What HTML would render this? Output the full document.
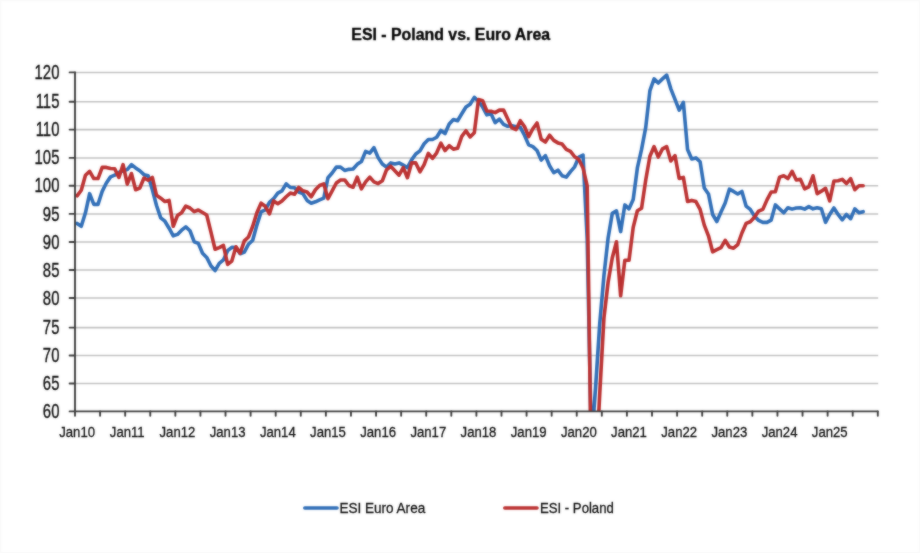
<!DOCTYPE html>
<html lang="en"><head><meta charset="utf-8"><title>ESI - Poland vs. Euro Area</title>
<style>html,body{margin:0;padding:0;background:#fff}body{width:920px;height:553px;overflow:hidden}svg{display:block}text{font-family:"Liberation Sans",Arial,sans-serif}</style>
</head><body>
<svg width="920" height="553" viewBox="0 0 920 553">
<defs><filter id="soft" color-interpolation-filters="sRGB" filterUnits="userSpaceOnUse" x="-10" y="-10" width="940" height="573"><feGaussianBlur in="SourceGraphic" stdDeviation="0.85" result="b"/><feComposite in="SourceGraphic" in2="b" operator="arithmetic" k1="0" k2="0.5" k3="0.5" k4="0"/></filter><clipPath id="plot"><rect x="75.0" y="69.4" width="804.8" height="342.0"/></clipPath></defs>
<g filter="url(#soft)">
<rect x="-10" y="-10" width="940" height="573" fill="#ffffff"/>
<rect x="0.5" y="0.5" width="919" height="552" fill="none" stroke="#f8f8f8" stroke-width="1.5"/>
<g stroke="#c1c1c1" stroke-width="1.55" fill="none">
<line x1="75.0" y1="72.40" x2="878.2" y2="72.40"/>
<line x1="75.0" y1="101.80" x2="878.2" y2="101.80"/>
<line x1="75.0" y1="129.60" x2="878.2" y2="129.60"/>
<line x1="75.0" y1="157.90" x2="878.2" y2="157.90"/>
<line x1="75.0" y1="185.80" x2="878.2" y2="185.80"/>
<line x1="75.0" y1="213.90" x2="878.2" y2="213.90"/>
<line x1="75.0" y1="242.00" x2="878.2" y2="242.00"/>
<line x1="75.0" y1="270.00" x2="878.2" y2="270.00"/>
<line x1="75.0" y1="298.00" x2="878.2" y2="298.00"/>
<line x1="75.0" y1="327.60" x2="878.2" y2="327.60"/>
<line x1="75.0" y1="355.50" x2="878.2" y2="355.50"/>
<line x1="75.0" y1="383.50" x2="878.2" y2="383.50"/>
</g>
<g clip-path="url(#plot)" fill="none" stroke-width="3.6" stroke-linejoin="round" stroke-linecap="round">
<polyline stroke="#306eb7" points="77.09,223.45 81.27,226.26 85.45,212.78 89.63,193.67 93.82,204.35 98.00,204.35 102.18,191.42 106.36,183.01 110.54,176.87 114.72,175.20 118.90,172.41 123.08,170.73 127.27,169.62 131.45,164.60 135.63,167.94 139.81,170.73 143.99,174.64 148.17,175.76 152.35,189.73 156.53,205.47 160.72,217.83 164.90,221.21 169.08,228.23 173.26,235.82 177.44,234.41 181.62,230.20 185.80,226.83 189.98,230.76 194.17,241.72 198.35,243.40 202.53,253.20 206.71,257.40 210.89,265.80 215.07,270.56 219.25,263.28 223.43,259.92 227.62,250.68 231.80,247.32 235.98,247.60 240.16,253.76 244.34,252.08 248.52,244.24 252.70,240.31 256.88,225.14 261.07,211.93 265.25,209.97 269.43,202.38 273.61,198.73 277.79,193.11 281.97,190.86 286.15,183.85 290.33,187.49 294.52,187.77 298.70,191.98 302.88,193.67 307.06,200.41 311.24,203.22 315.42,201.82 319.60,199.85 323.78,198.16 327.97,177.71 332.15,172.97 336.33,167.11 340.51,167.11 344.69,170.46 348.87,169.34 353.05,169.06 357.23,164.32 361.42,161.53 365.60,151.39 369.78,153.09 373.96,147.71 378.14,157.62 382.32,164.04 386.50,167.11 390.68,162.92 394.87,164.04 399.05,162.92 403.23,165.15 407.41,167.67 411.59,159.85 415.77,153.94 419.95,150.82 424.13,143.75 428.32,139.50 432.50,139.50 436.68,137.24 440.86,130.45 445.04,133.56 449.22,124.04 453.40,119.59 457.58,120.70 461.77,113.75 465.95,107.08 470.13,104.30 474.31,97.39 478.49,101.21 482.67,107.08 486.85,114.87 491.03,113.75 495.22,122.65 499.40,119.04 503.58,124.32 507.76,126.26 511.94,125.71 516.12,126.82 520.30,127.38 524.48,135.26 528.67,144.88 532.85,146.58 537.03,150.54 541.21,160.13 545.39,155.64 549.57,165.71 553.75,172.69 557.93,170.18 562.12,175.76 566.30,177.15 570.48,171.57 574.66,166.83 578.84,157.05 583.02,155.07 587.20,239.19 591.38,445.00 595.57,387.41 599.75,323.46 603.93,275.60 608.11,238.07 612.29,213.34 616.47,210.81 620.65,231.60 624.83,204.91 629.02,208.84 633.20,199.57 637.38,167.94 641.56,149.41 645.74,127.38 649.92,90.63 654.10,78.87 658.28,82.98 662.47,78.87 666.65,75.05 670.83,88.86 675.01,99.45 679.19,110.14 683.37,102.36 687.55,149.41 691.73,159.02 695.92,157.90 700.10,161.81 704.28,188.05 708.46,193.95 712.64,214.46 716.82,221.49 721.00,211.93 725.18,202.94 729.37,189.17 733.55,191.42 737.73,193.95 741.91,191.42 746.09,206.03 750.27,209.40 754.45,216.15 758.63,220.36 762.82,222.33 767.00,222.33 771.18,220.08 775.36,204.91 779.54,208.84 783.72,212.78 787.90,207.72 792.08,209.12 796.27,208.00 800.45,207.72 804.63,209.12 808.81,206.59 812.99,208.84 817.17,207.72 821.35,208.84 825.53,222.33 829.72,214.46 833.90,208.00 838.08,214.46 842.26,219.80 846.44,214.46 850.62,218.68 854.80,208.84 858.98,212.78 863.17,211.65"/>
<polyline stroke="#bb3131" points="77.09,195.92 81.27,190.30 85.45,175.20 89.63,171.29 93.82,178.55 98.00,178.55 102.18,167.39 106.36,167.39 110.54,168.50 114.72,168.78 118.90,177.43 123.08,164.60 127.27,184.13 131.45,173.52 135.63,189.73 139.81,188.05 143.99,177.99 148.17,180.22 152.35,177.43 156.53,195.35 160.72,198.16 164.90,201.54 169.08,200.41 173.26,226.26 177.44,215.59 181.62,212.78 185.80,206.03 189.98,208.00 194.17,211.65 198.35,209.97 202.53,212.50 206.71,215.02 210.89,231.88 215.07,249.28 219.25,247.60 223.43,245.36 227.62,264.40 231.80,261.04 235.98,246.76 240.16,253.20 244.34,240.88 248.52,236.94 252.70,226.26 256.88,212.78 261.07,203.22 265.25,206.31 269.43,213.90 273.61,200.97 277.79,203.78 281.97,200.97 286.15,196.76 290.33,193.11 294.52,194.23 298.70,187.49 302.88,190.86 307.06,191.98 311.24,196.76 315.42,189.73 319.60,185.52 323.78,183.85 327.97,198.73 332.15,190.86 336.33,183.01 340.51,179.94 344.69,179.94 348.87,185.52 353.05,187.21 357.23,177.15 361.42,188.89 365.60,181.89 369.78,177.15 373.96,181.89 378.14,183.57 382.32,180.78 386.50,169.90 390.68,166.27 394.87,170.73 399.05,175.20 403.23,167.67 407.41,177.71 411.59,162.92 415.77,162.92 419.95,171.85 424.13,164.60 428.32,153.37 432.50,158.46 436.68,152.81 440.86,143.18 445.04,150.54 449.22,145.73 453.40,149.13 457.58,148.28 461.77,136.39 465.95,130.73 470.13,136.96 474.31,132.71 478.49,99.45 482.67,100.62 486.85,110.97 491.03,111.25 495.22,112.64 499.40,110.14 503.58,110.14 507.76,119.04 511.94,127.93 516.12,129.60 520.30,120.70 524.48,126.54 528.67,136.68 532.85,128.77 537.03,122.93 541.21,139.22 545.39,142.05 549.57,135.26 553.75,140.35 557.93,142.90 562.12,144.03 566.30,149.41 570.48,151.39 574.66,156.77 578.84,159.57 583.02,167.94 587.20,185.80 591.38,480.28 595.57,476.36 599.75,393.54 603.93,318.13 608.11,282.32 612.29,257.68 616.47,241.72 620.65,295.76 624.83,260.20 629.02,260.20 633.20,227.39 637.38,210.81 641.56,208.28 645.74,179.94 649.92,156.20 654.10,146.58 658.28,157.05 662.47,148.84 666.65,146.58 670.83,160.97 675.01,155.64 679.19,178.55 683.37,177.43 687.55,201.54 691.73,200.41 695.92,201.54 700.10,209.40 704.28,225.14 708.46,235.82 712.64,251.80 716.82,249.56 721.00,247.60 725.18,240.31 729.37,247.04 733.55,248.16 737.73,244.52 741.91,233.01 746.09,223.45 750.27,221.77 754.45,217.27 758.63,211.09 762.82,209.40 767.00,199.85 771.18,191.98 775.36,191.70 779.54,177.15 783.72,175.76 787.90,178.55 792.08,171.29 796.27,179.94 800.45,179.38 804.63,188.89 808.81,186.92 812.99,175.76 817.17,193.67 821.35,191.14 825.53,188.33 829.72,200.97 833.90,181.06 838.08,180.78 842.26,179.38 846.44,183.57 850.62,178.55 854.80,189.73 858.98,185.80 863.17,185.80"/>
</g>
<g stroke="#3c3c3c" stroke-width="1.9" fill="none" stroke-linecap="round">
<line x1="75.0" y1="72.4" x2="75.0" y2="411.4"/>
<line x1="69.6" y1="411.4" x2="877.8" y2="411.4"/>
<line x1="69.6" y1="72.40" x2="75.0" y2="72.40"/>
<line x1="69.6" y1="101.80" x2="75.0" y2="101.80"/>
<line x1="69.6" y1="129.60" x2="75.0" y2="129.60"/>
<line x1="69.6" y1="157.90" x2="75.0" y2="157.90"/>
<line x1="69.6" y1="185.80" x2="75.0" y2="185.80"/>
<line x1="69.6" y1="213.90" x2="75.0" y2="213.90"/>
<line x1="69.6" y1="242.00" x2="75.0" y2="242.00"/>
<line x1="69.6" y1="270.00" x2="75.0" y2="270.00"/>
<line x1="69.6" y1="298.00" x2="75.0" y2="298.00"/>
<line x1="69.6" y1="327.60" x2="75.0" y2="327.60"/>
<line x1="69.6" y1="355.50" x2="75.0" y2="355.50"/>
<line x1="69.6" y1="383.50" x2="75.0" y2="383.50"/>
<line x1="75.00" y1="411.4" x2="75.00" y2="415.8"/>
<line x1="100.09" y1="411.4" x2="100.09" y2="415.8"/>
<line x1="125.17" y1="411.4" x2="125.17" y2="415.8"/>
<line x1="150.26" y1="411.4" x2="150.26" y2="415.8"/>
<line x1="175.35" y1="411.4" x2="175.35" y2="415.8"/>
<line x1="200.44" y1="411.4" x2="200.44" y2="415.8"/>
<line x1="225.52" y1="411.4" x2="225.52" y2="415.8"/>
<line x1="250.61" y1="411.4" x2="250.61" y2="415.8"/>
<line x1="275.70" y1="411.4" x2="275.70" y2="415.8"/>
<line x1="300.79" y1="411.4" x2="300.79" y2="415.8"/>
<line x1="325.88" y1="411.4" x2="325.88" y2="415.8"/>
<line x1="350.96" y1="411.4" x2="350.96" y2="415.8"/>
<line x1="376.05" y1="411.4" x2="376.05" y2="415.8"/>
<line x1="401.14" y1="411.4" x2="401.14" y2="415.8"/>
<line x1="426.22" y1="411.4" x2="426.22" y2="415.8"/>
<line x1="451.31" y1="411.4" x2="451.31" y2="415.8"/>
<line x1="476.40" y1="411.4" x2="476.40" y2="415.8"/>
<line x1="501.49" y1="411.4" x2="501.49" y2="415.8"/>
<line x1="526.58" y1="411.4" x2="526.58" y2="415.8"/>
<line x1="551.66" y1="411.4" x2="551.66" y2="415.8"/>
<line x1="576.75" y1="411.4" x2="576.75" y2="415.8"/>
<line x1="601.84" y1="411.4" x2="601.84" y2="415.8"/>
<line x1="626.92" y1="411.4" x2="626.92" y2="415.8"/>
<line x1="652.01" y1="411.4" x2="652.01" y2="415.8"/>
<line x1="677.10" y1="411.4" x2="677.10" y2="415.8"/>
<line x1="702.19" y1="411.4" x2="702.19" y2="415.8"/>
<line x1="727.27" y1="411.4" x2="727.27" y2="415.8"/>
<line x1="752.36" y1="411.4" x2="752.36" y2="415.8"/>
<line x1="777.45" y1="411.4" x2="777.45" y2="415.8"/>
<line x1="802.54" y1="411.4" x2="802.54" y2="415.8"/>
<line x1="827.62" y1="411.4" x2="827.62" y2="415.8"/>
<line x1="852.71" y1="411.4" x2="852.71" y2="415.8"/>
<line x1="877.80" y1="411.4" x2="877.80" y2="415.8"/>
</g>
<g fill="#0c0c0c" stroke="#0c0c0c" stroke-width="0.35" font-size="19.3" text-anchor="end">
<text transform="translate(59.4 79.25) scale(0.770 1)">120</text>
<text transform="translate(59.4 107.52) scale(0.770 1)">115</text>
<text transform="translate(59.4 135.79) scale(0.770 1)">110</text>
<text transform="translate(59.4 164.06) scale(0.770 1)">105</text>
<text transform="translate(59.4 192.33) scale(0.770 1)">100</text>
<text transform="translate(59.4 220.60) scale(0.770 1)">95</text>
<text transform="translate(59.4 248.87) scale(0.770 1)">90</text>
<text transform="translate(59.4 277.14) scale(0.770 1)">85</text>
<text transform="translate(59.4 305.41) scale(0.770 1)">80</text>
<text transform="translate(59.4 333.68) scale(0.770 1)">75</text>
<text transform="translate(59.4 361.95) scale(0.770 1)">70</text>
<text transform="translate(59.4 390.22) scale(0.770 1)">65</text>
<text transform="translate(59.4 418.49) scale(0.770 1)">60</text>
</g>
<g fill="#0c0c0c" stroke="#0c0c0c" stroke-width="0.3" font-size="15.2" text-anchor="middle">
<text transform="translate(77.09 436.5) scale(0.865 1)">Jan10</text>
<text transform="translate(127.27 436.5) scale(0.865 1)">Jan11</text>
<text transform="translate(177.44 436.5) scale(0.865 1)">Jan12</text>
<text transform="translate(227.62 436.5) scale(0.865 1)">Jan13</text>
<text transform="translate(277.79 436.5) scale(0.865 1)">Jan14</text>
<text transform="translate(327.97 436.5) scale(0.865 1)">Jan15</text>
<text transform="translate(378.14 436.5) scale(0.865 1)">Jan16</text>
<text transform="translate(428.32 436.5) scale(0.865 1)">Jan17</text>
<text transform="translate(478.49 436.5) scale(0.865 1)">Jan18</text>
<text transform="translate(528.67 436.5) scale(0.865 1)">Jan19</text>
<text transform="translate(578.84 436.5) scale(0.865 1)">Jan20</text>
<text transform="translate(629.02 436.5) scale(0.865 1)">Jan21</text>
<text transform="translate(679.19 436.5) scale(0.865 1)">Jan22</text>
<text transform="translate(729.37 436.5) scale(0.865 1)">Jan23</text>
<text transform="translate(779.54 436.5) scale(0.865 1)">Jan24</text>
<text transform="translate(829.72 436.5) scale(0.865 1)">Jan25</text>
</g>
<text transform="translate(450.7 40.1) scale(0.935 1)" font-size="17" font-weight="bold" text-anchor="middle" fill="#000000" stroke="#000000" stroke-width="0.35">ESI - Poland vs. Euro Area</text>
<g fill="none" stroke-width="3.6" stroke-linecap="round">
<line x1="304.8" y1="508" x2="337" y2="508" stroke="#306eb7"/>
<line x1="504.8" y1="508" x2="537" y2="508" stroke="#bb3131"/>
</g>
<g fill="#0c0c0c" stroke="#0c0c0c" stroke-width="0.3" font-size="15.5">
<text transform="translate(339.4 512.5) scale(0.874 1)">ESI Euro Area</text>
<text transform="translate(540.0 512.5) scale(0.849 1)">ESI - Poland</text>
</g>
</g>
</svg>
</body></html>
